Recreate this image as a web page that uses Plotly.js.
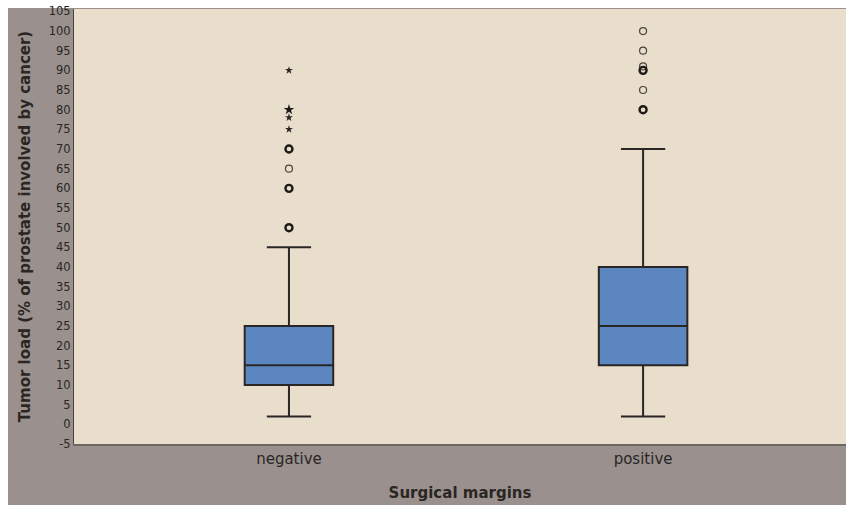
<!DOCTYPE html>
<html>
<head>
<meta charset="utf-8">
<script src="https://cdn.plot.ly/plotly-3.0.1.min.js"></script>
<style>
html,body{margin:0;padding:0;background:#ffffff;}
#bg{position:absolute;left:8px;top:8px;width:838px;height:497px;background:#9a918e;z-index:0;}
#chart{position:absolute;left:8px;top:0px;width:838px;height:505px;z-index:1;}
</style>
</head>
<body>
<div id="bg"></div>
<div id="chart"></div>
<script>
// Categories and box statistics
const categories = ["negative", "positive"];
const lowerWhisker = [2, 2];
const q1Values = [10, 15];
const medianValues = [15, 25];
const q3Values = [25, 40];
const upperWhisker = [45, 70];

// Outliers (circles: mild, stars: extreme)
const negCircleSingle = [65];
const negCircleMulti = [50, 60, 70];
const negStars = [75, 78, 90];
const negStarsMulti = [80];
const posCircleSingle = [85, 91, 95, 100];
const posCircleMulti = [80, 90];

const yTicks = [-5,0,5,10,15,20,25,30,35,40,45,50,55,60,65,70,75,80,85,90,95,100,105];

function rep(cat, arr){ return arr.map(() => cat); }

const traces = [
  {
    type: "box",
    x: categories,
    q1: q1Values,
    median: medianValues,
    q3: q3Values,
    lowerfence: lowerWhisker,
    upperfence: upperWhisker,
    fillcolor: "#5b86c0",
    line: {color: "#2a2624", width: 2},
    whiskerwidth: 0.5,
    width: 0.25,
    boxpoints: false,
    hoverinfo: "skip",
    showlegend: false
  },
  {
    type: "scatter", mode: "markers",
    x: rep("negative", negCircleSingle).concat(rep("positive", posCircleSingle)),
    y: negCircleSingle.concat(posCircleSingle),
    marker: {symbol: "circle-open", size: 7, color: "#4a4440", line: {width: 1.2}},
    showlegend: false, hoverinfo: "skip"
  },
  {
    type: "scatter", mode: "markers",
    x: rep("negative", negCircleMulti).concat(rep("positive", posCircleMulti)),
    y: negCircleMulti.concat(posCircleMulti),
    marker: {symbol: "circle-open", size: 7, color: "#1e1a18", line: {width: 2.4}},
    showlegend: false, hoverinfo: "skip"
  },
  {
    type: "scatter", mode: "markers",
    x: rep("negative", negStars),
    y: negStars,
    marker: {symbol: "star", size: 6, color: "#2a2624"},
    showlegend: false, hoverinfo: "skip"
  },
  {
    type: "scatter", mode: "markers",
    x: rep("negative", negStarsMulti),
    y: negStarsMulti,
    marker: {symbol: "star", size: 8, color: "#1e1a18"},
    showlegend: false, hoverinfo: "skip"
  }
];

const layout = {
  width: 838, height: 505,
  margin: {l: 66, r: 0, t: 9, b: 61},
  paper_bgcolor: "rgba(0,0,0,0)",
  plot_bgcolor: "#e9ddcb",
  font: {family: "DejaVu Sans, sans-serif", color: "#2a2624"},
  xaxis: {
    type: "category",
    range: [-0.607, 1.573],
    showgrid: false, zeroline: false,
    showline: true, linecolor: "#6f6763", linewidth: 2,
    ticks: "",
    tickfont: {size: 15, color: "#2a2624"},
    title: {text: "Surgical margins", font: {size: 15, color: "#2a2624", weight: "bold"}, standoff: 20}
  },
  yaxis: {
    range: [-5, 105.6],
    tickvals: yTicks,
    ticktext: yTicks.map(String),
    ticklabeloverflow: "allow",
    showgrid: false, zeroline: false,
    showline: true, linecolor: "#4a4440", linewidth: 1,
    ticks: "",
    tickfont: {size: 11.5, color: "#2a2624"},
    title: {text: "Tumor load (% of prostate involved by cancer)", font: {size: 15, color: "#2a2624", weight: "bold"}, standoff: 14}
  }
};

Plotly.newPlot("chart", traces, layout, {displayModeBar: false, staticPlot: true});
</script>
</body>
</html>
